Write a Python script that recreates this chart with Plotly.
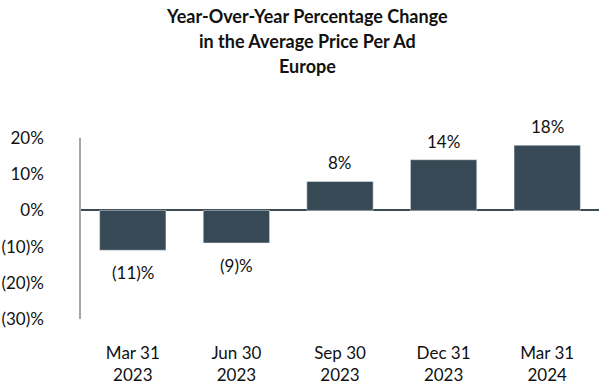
import plotly.graph_objects as go

categories = ["Mar 31<br>2023", "Jun 30<br>2023", "Sep 30<br>2023", "Dec 31<br>2023", "Mar 31<br>2024"]
values = [-11, -9, 8, 14, 18]
value_labels = ["(11)%", "(9)%", "8%", "14%", "18%"]
tick_vals = [-30, -20, -10, 0, 10, 20]
tick_text = ["(30)%", "(20)%", "(10)%", "0%", "10%", "20%"]
title_lines = ["Year-Over-Year Percentage Change", "in the Average Price Per Ad", "Europe"]

BAR = "#364954"
FONT = "Lato, 'Open Sans', sans-serif"

fig = go.Figure(go.Bar(
    x=categories, y=values, marker_color=BAR, width=0.64, hoverinfo="skip",
))

for c, v, t in zip(categories, values, value_labels):
    fig.add_annotation(
        x=c, y=v, text=t, showarrow=False,
        yanchor="bottom" if v >= 0 else "top",
        yshift=6 if v >= 0 else -10,
        font=dict(size=17, color="#111111", family=FONT),
    )

for i, line in enumerate(title_lines):
    fig.add_annotation(
        xref="paper", yref="paper", x=0.5 - 33 / 518, y=1.674 - i * 0.138,
        text="<b>" + line + "</b>", showarrow=False,
        xanchor="center", yanchor="middle",
        font=dict(size=18, color="#111111", family=FONT),
    )

fig.update_layout(
    width=614, height=384,
    margin=dict(l=81, r=15, t=138, b=65),
    paper_bgcolor="white", plot_bgcolor="white",
    showlegend=False,
    xaxis=dict(
        showline=False, showgrid=False, ticks="", zeroline=False,
        tickfont=dict(size=17, color="#111111", family=FONT),
        ticklabelstandoff=22, automargin=False,
    ),
    yaxis=dict(
        range=[-30, 20], tickvals=tick_vals, ticktext=tick_text,
        showgrid=False, showline=True, linecolor="#a6a6a6", linewidth=1.5,
        zeroline=True, zerolinecolor="#3c4a54", zerolinewidth=1.5,
        ticks="", tickfont=dict(size=17, color="#111111", family=FONT),
        ticklabelstandoff=32, automargin=False,
    ),
)

fig.write_html(
    "out.html",
    config={"displayModeBar": False},
    post_script="document.body.style.margin='0';document.body.style.padding='0';",
)
